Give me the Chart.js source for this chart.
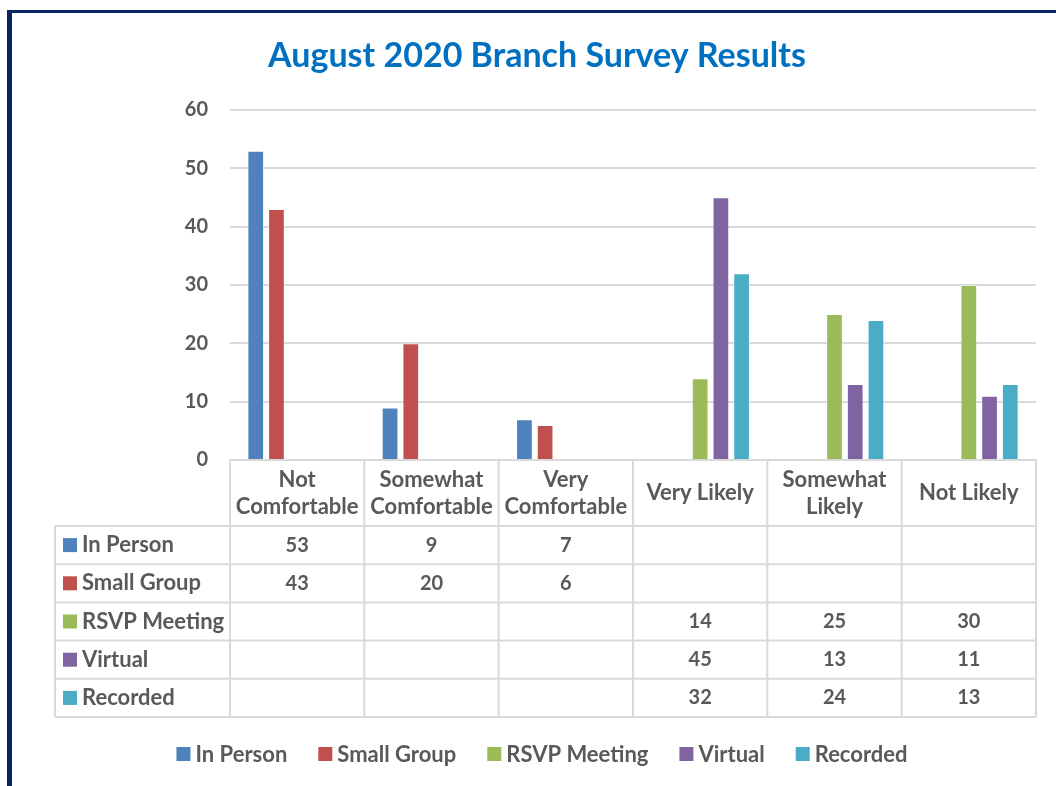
<!DOCTYPE html>
<html>
<head>
<meta charset="utf-8">
<script src="https://cdn.jsdelivr.net/npm/chart.js@4"></script>
<style>
  html, body { margin: 0; padding: 0; background: #fff; }
  #wrap { position: relative; width: 1056px; height: 786px; overflow: hidden; }
  #frame { position: absolute; left: 7px; top: 10px; width: 1100px; height: 900px;
           border-left: 5px solid #0b2466; border-top: 3px solid #0b2466; }
  canvas { position: absolute; left: 0; top: 0; }
</style>
</head>
<body>
<div id="wrap">
  <div id="frame"></div>
  <canvas id="survey" width="1056" height="786"></canvas>
</div>
<script>
// categories (two-line ones are arrays)
const categories = [
  ["Not", "Comfortable"],
  ["Somewhat", "Comfortable"],
  ["Very", "Comfortable"],
  "Very Likely",
  ["Somewhat", "Likely"],
  "Not Likely"
];
const seriesNames = ["In Person", "Small Group", "RSVP Meeting", "Virtual", "Recorded"];
const seriesColors = ["#4F81BD", "#C0504D", "#9BBB59", "#8064A2", "#4BACC6"];
const inPerson    = [53, 9, 7, null, null, null];
const smallGroup  = [43, 20, 6, null, null, null];
const rsvpMeeting = [null, null, null, 14, 25, 30];
const virtual     = [null, null, null, 45, 13, 11];
const recorded    = [null, null, null, 32, 24, 13];
const yTicks = [0, 10, 20, 30, 40, 50, 60];

const seriesValues = [inPerson, smallGroup, rsvpMeeting, virtual, recorded];
const textGray = '#595959';
const fontName = 'Lato';
const labelFont = 'bold 22px ' + fontName;
const numberFont = 'bold 20px ' + fontName;

// draws the data table under the plot and the legend
const dataTable = {
  id: 'dataTable',
  afterDraw(chart) {
    const ctx = chart.ctx;
    const area = chart.chartArea;
    const x = chart.scales.x;
    const n = categories.length;
    const colW = (area.right - area.left) / n;
    const top = area.bottom;
    const headH = 66, rowH = 38.2, leftX = 55;
    const bottom = top + headH + rowH * seriesNames.length;

    ctx.save();
    ctx.strokeStyle = '#d9d9d9';
    ctx.lineWidth = 2;
    ctx.beginPath();
    for (let i = 0; i <= n; i++) {
      const xx = area.left + i * colW;
      ctx.moveTo(xx, top); ctx.lineTo(xx, bottom);
    }
    ctx.moveTo(leftX, top + headH); ctx.lineTo(leftX, bottom);
    for (let r = 0; r <= seriesNames.length; r++) {
      const yy = top + headH + r * rowH;
      ctx.moveTo(leftX, yy); ctx.lineTo(area.right, yy);
    }
    ctx.stroke();

    ctx.fillStyle = textGray;
    ctx.font = labelFont;
    ctx.textBaseline = 'middle';
    ctx.textAlign = 'center';
    // header labels
    categories.forEach((c, i) => {
      const cx = x.getPixelForValue(i);
      const lines = Array.isArray(c) ? c : [c];
      const lh = 27;
      const y0 = top + headH / 2 - (lines.length - 1) * lh / 2;
      lines.forEach((t, k) => ctx.fillText(t, cx, y0 + k * lh));
    });
    // rows
    seriesNames.forEach((name, r) => {
      const cy = top + headH + r * rowH + rowH / 2;
      ctx.fillStyle = seriesColors[r];
      ctx.fillRect(63, cy - 7, 14, 14);
      ctx.fillStyle = textGray;
      ctx.textAlign = 'left';
      ctx.font = labelFont;
      ctx.fillText(name, 82, cy);
      ctx.textAlign = 'center';
      ctx.font = numberFont;
      seriesValues[r].forEach((v, i) => {
        if (v !== null) ctx.fillText(String(v), x.getPixelForValue(i), cy);
      });
    });

    // legend
    ctx.font = labelFont;
    const ly = 754;
    const gapBox = 5, gapItem = 31, box = 14;
    const widths = seriesNames.map(s => box + gapBox + ctx.measureText(s).width);
    const total = widths.reduce((a, b) => a + b, 0) + gapItem * (seriesNames.length - 1);
    let lx = 542 - total / 2;
    ctx.textAlign = 'left';
    seriesNames.forEach((s, i) => {
      ctx.fillStyle = seriesColors[i];
      ctx.fillRect(lx, ly - 7, box, box);
      ctx.fillStyle = textGray;
      ctx.fillText(s, lx + box + gapBox, ly + 1);
      lx += widths[i] + gapItem;
    });
    ctx.restore();
  }
};

new Chart("survey", {
  type: 'bar',
  data: {
    labels: categories,
    datasets: seriesNames.map((name, i) => ({
      label: name,
      data: seriesValues[i],
      backgroundColor: seriesColors[i],
      borderColor: 'rgba(255,255,255,0.35)',
      borderWidth: 1,
      categoryPercentage: 0.771,
      barPercentage: 0.807
    }))
  },
  options: {
    responsive: false,
    animation: false,
    layout: {
      padding: { left: 38, right: 20, top: 28, bottom: 326 }
    },
    plugins: {
      legend: { display: false },
      tooltip: { enabled: false },
      title: {
        display: true,
        text: 'August 2020 Branch Survey Results',
        color: '#0070C0',
        font: { family: fontName, size: 34, weight: 'bold', lineHeight: 1.2 },
        padding: { top: 8, bottom: 33 }
      }
    },
    scales: {
      x: { display: false },
      y: {
        min: 0,
        max: 60,
        afterFit: (s) => { s.width = 192; },
        afterBuildTicks: (s) => { s.ticks = yTicks.map(v => ({ value: v })); },
        border: { display: false },
        grid: { color: '#d9d9d9', lineWidth: 2, drawTicks: false },
        ticks: {
          padding: 22,
          color: textGray,
          font: { family: fontName, size: 20, weight: 'bold' }
        }
      }
    }
  },
  plugins: [dataTable]
});
</script>
</body>
</html>
